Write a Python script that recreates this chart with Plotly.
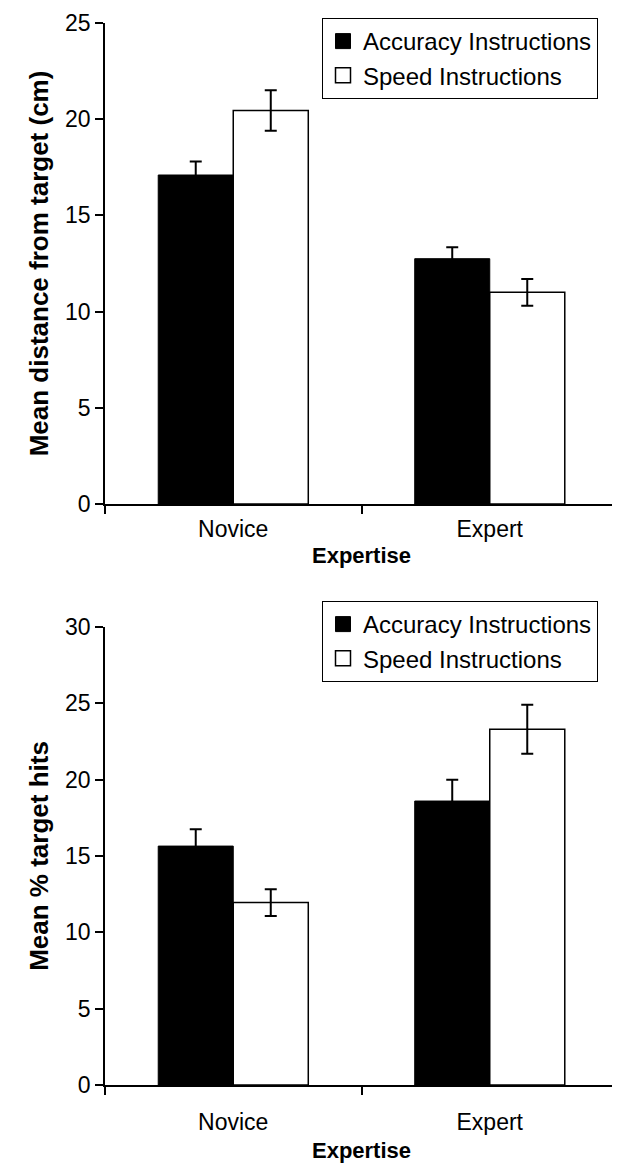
import plotly.graph_objects as go

categories = ["Novice", "Expert"]
series_names = ["Accuracy Instructions", "Speed Instructions"]

# Panel 1: Mean distance from target (cm)
dist_accuracy = [17.1, 12.75]
dist_accuracy_err = [0.7, 0.6]
dist_speed = [20.45, 11.0]
dist_speed_err = [1.05, 0.7]

# Panel 2: Mean % target hits
hits_accuracy = [15.65, 18.6]
hits_accuracy_err = [1.1, 1.4]
hits_speed = [11.95, 23.3]
hits_speed_err = [0.88, 1.6]

y1_ticks = [0, 5, 10, 15, 20, 25]
y2_ticks = [0, 5, 10, 15, 20, 25, 30]

OFF = 8  # page body margin
W, H = 620 - OFF, 1167 - OFF
FONT = "Liberation Sans, Arial, sans-serif"

def fx(p):
    return (p - OFF) / W

def fy(p):
    return 1 - (p - OFF) / H

fig = go.Figure()

def add_pair(acc, acc_err, spd, spd_err, xa, ya, legend):
    fig.add_trace(go.Bar(
        x=categories, y=acc, xaxis=xa, yaxis=ya, name=series_names[0],
        marker=dict(color="black", line=dict(color="black", width=1)),
        error_y=dict(type="data", array=acc_err, visible=True, color="black", thickness=2, width=6),
        showlegend=False, offsetgroup="a"))
    fig.add_trace(go.Bar(
        x=categories, y=spd, xaxis=xa, yaxis=ya, name=series_names[1],
        marker=dict(color="white", line=dict(color="black", width=1.5)),
        error_y=dict(type="data", array=spd_err, visible=True, color="black", thickness=2, width=6),
        showlegend=False, offsetgroup="b"))
    # legend entries
    fig.add_trace(go.Scatter(
        x=[None], y=[None], xaxis=xa, yaxis=ya, mode="markers", name=series_names[0],
        marker=dict(symbol="square", size=15, color="black", line=dict(color="black", width=1)),
        legend=legend))
    fig.add_trace(go.Scatter(
        x=[None], y=[None], xaxis=xa, yaxis=ya, mode="markers", name=series_names[1],
        marker=dict(symbol="square", size=15, color="white", line=dict(color="black", width=1.5)),
        legend=legend))

add_pair(dist_accuracy, dist_accuracy_err, dist_speed, dist_speed_err, "x", "y", "legend")
add_pair(hits_accuracy, hits_accuracy_err, hits_speed, hits_speed_err, "x2", "y2", "legend2")

xdom = [fx(105), min(1.0, fx(618))]
xaxis_common = dict(
    showline=True, linecolor="black", linewidth=1.5, ticks="outside", ticklen=8,
    tickwidth=1.5, tickcolor="black", tickson="boundaries", showgrid=False,
    zeroline=False, range=[-0.5, 1.5], domain=xdom, automargin=False,
    ticklabeloverflow="allow",
    tickfont=dict(family=FONT, size=23, color="black"),
)
yaxis_common = dict(
    showline=True, linecolor="black", linewidth=1.5, ticks="outside", ticklen=8,
    tickwidth=1.5, tickcolor="black", showgrid=False, zeroline=False, automargin=False,
    ticklabeloverflow="allow",
    tickfont=dict(family=FONT, size=23, color="black"),
)

legend_common = dict(
    bgcolor="white", bordercolor="black", borderwidth=1,
    font=dict(family=FONT, size=24, color="black"),
    xanchor="left", yanchor="top", x=fx(322), tracegroupgap=0, itemwidth=30,
)

fig.update_layout(
    width=W, height=H, margin=dict(l=0, r=0, t=0, b=0, autoexpand=False),
    paper_bgcolor="white", plot_bgcolor="white",
    barmode="group", bargap=0.415, bargroupgap=0,
    font=dict(family=FONT, color="black"),
    xaxis=dict(**xaxis_common, anchor="y", ticklabelstandoff=4,
               title=dict(text="<b>Expertise</b>", font=dict(family=FONT, size=22, color="black"), standoff=6)),
    yaxis=dict(**yaxis_common, anchor="x", domain=[fy(504), fy(23)], range=[0, 25],
               tickvals=y1_ticks,
               title=dict(text="<b>Mean distance from target (cm)</b>", font=dict(family=FONT, size=26, color="black"), standoff=9)),
    xaxis2=dict(**xaxis_common, anchor="y2", ticklabelstandoff=16,
                title=dict(text="<b>Expertise</b>", font=dict(family=FONT, size=22, color="black"), standoff=8)),
    yaxis2=dict(**yaxis_common, anchor="x2", domain=[fy(1085), fy(627)], range=[0, 30],
                tickvals=y2_ticks,
                title=dict(text="<b>Mean % target hits</b>", font=dict(family=FONT, size=26, color="black"), standoff=9)),
    legend=dict(**legend_common, y=fy(18)),
    legend2=dict(**legend_common, y=fy(601)),
)

fig.write_html("out.html")
